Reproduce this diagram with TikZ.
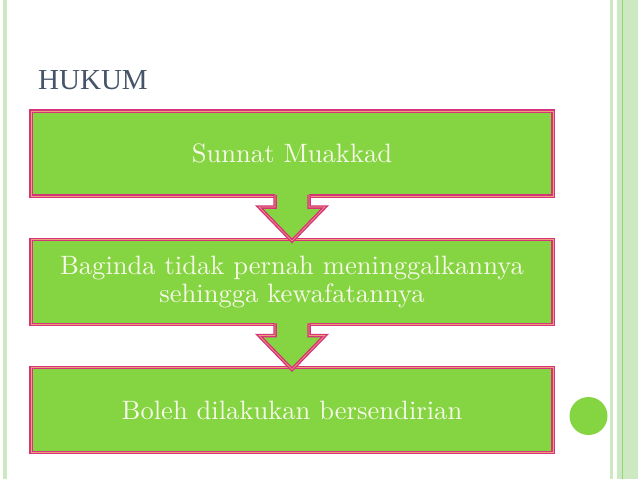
\documentclass[tikz,border=0pt]{standalone}
\usepackage{fontspec}
\newfontfamily\titlefont{Liberation Serif}
\newfontfamily\bodyfont{lmroman10-regular}[Extension=.otf]
\usetikzlibrary{calc}
\definecolor{boxgreen}{RGB}{133,212,65}
\definecolor{boxpink}{RGB}{214,51,122}
\definecolor{innerline}{RGB}{236,160,120}
\definecolor{bandgreen}{RGB}{204,233,194}
\definecolor{banddark}{RGB}{150,210,120}
\definecolor{titlecol}{RGB}{70,84,106}
\definecolor{textcol}{RGB}{246,248,232}
\tikzset{
  stepbox/.style={draw=boxpink, line width=3.5pt, fill=boxgreen, outer sep=0pt,
    minimum width=522pt, minimum height=85pt, text=textcol, align=center,
    font=\bodyfont\fontsize{26.6}{28}\selectfont},
  pinkedge/.style={draw=boxpink, line width=3.5pt, line join=miter},
  thinedge/.style={draw=innerline, line width=0.6pt, line join=miter},
}
\begin{document}
\begin{tikzpicture}[x=1pt,y=-1pt]
\useasboundingbox (0,0) rectangle (638,479);
\fill[white] (0,0) rectangle (638,479);
% side bands
\fill[bandgreen] (3.3,0) rectangle (6.7,479);
\fill[bandgreen] (610,0) rectangle (612.7,479);
\fill[bandgreen] (617.3,0) rectangle (638,479);
\fill[banddark] (621.8,0) rectangle (622.8,479);
% title
\node[anchor=base west, inner sep=0pt, text=titlecol, font=\titlefont\fontsize{29}{32}\selectfont] (title) at (38,89) {HUKUM};
% boxes
\node[stepbox] (b1) at (292,153.5) {Sunnat Muakkad};
\node[stepbox] (b2) at (292,282) {Baginda tidak pernah meninggalkannya\\sehingga kewafatannya};
\node[stepbox] (b3) at (292,410) {Boleh dilakukan bersendirian};
\foreach \b in {b1,b2,b3}{
  \draw[thinedge] (\b.south west) rectangle (\b.north east);
}
% block arrows
\foreach \s/\t in {b1/b2,b2/b3}{
  \fill[boxgreen] ($(\s.south)+(-17,-3)$) -- ($(\s.south)+(-17,11)$) -- ($(\s.south)+(-33,11)$)
     -- ($(\s.south)+(0,45)$) -- ($(\s.south)+(33,11)$) -- ($(\s.south)+(17,11)$)
     -- ($(\s.south)+(17,-3)$) -- cycle;
  \foreach \st in {pinkedge,thinedge}{
    \draw[\st] ($(\s.south)+(-17,-1.2)$) -- ($(\s.south)+(-17,11)$) -- ($(\s.south)+(-33,11)$)
       -- ($(\s.south)+(0,45)$) -- ($(\s.south)+(33,11)$) -- ($(\s.south)+(17,11)$)
       -- ($(\s.south)+(17,-1.2)$);
  }
}
% decorative circle
\fill[boxgreen] (588.5,416) circle (19);
\end{tikzpicture}
\end{document}
